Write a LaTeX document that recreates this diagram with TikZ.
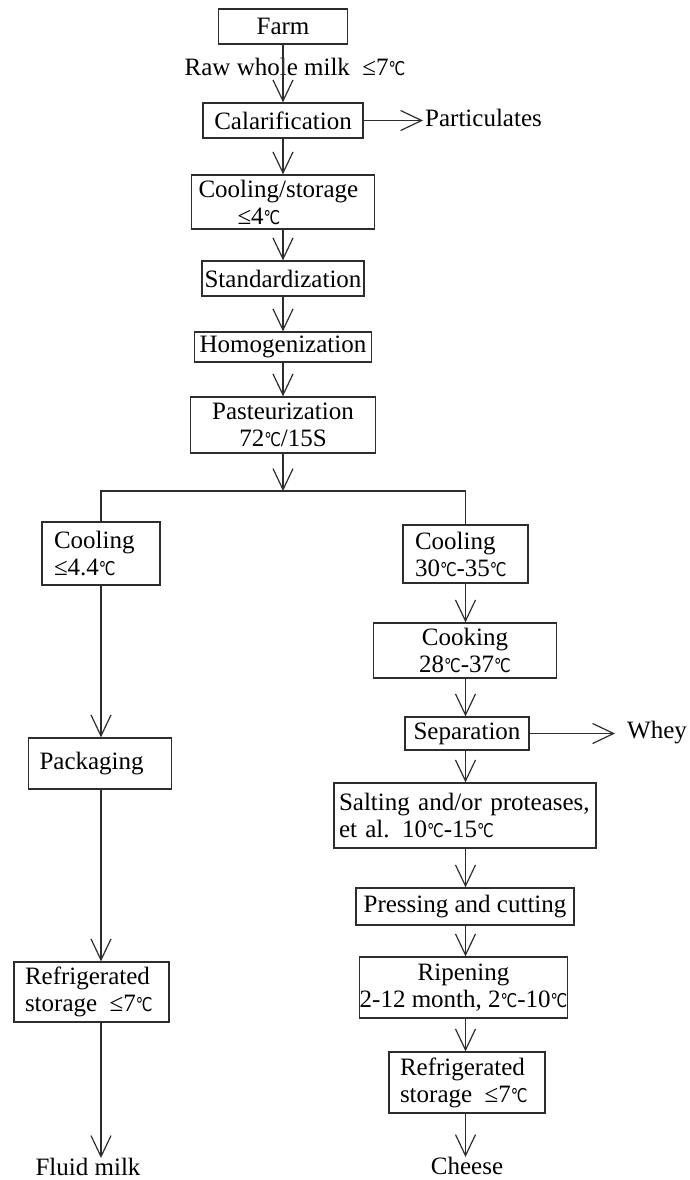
\documentclass[tikz,border=0pt]{standalone}
\usepackage{fontspec}
\usepackage{graphicx}
\setmainfont{Liberation Serif}
\newfontfamily\djs{DejaVu Sans}
\usetikzlibrary{arrows.meta}
\newcommand\degC{{\djs\fontsize{19}{19}\selectfont\scalebox{0.78}[1]{℃}}}
\definecolor{ln}{RGB}{45,45,45}
\tikzset{
  box/.style={draw=ln, line width=1.3pt, inner sep=0pt, align=center,
    font=\fontsize{25}{27}\selectfont},
  lbox/.style={box, align=left},
  txt/.style={inner sep=0pt, font=\fontsize{25}{27}\selectfont},
  arr/.style={draw=ln, line width=1.3pt,
    -{Straight Barb[length=21pt,width=20pt,line width=1.2pt]}},
  ln/.style={draw=ln, line width=1.3pt}
}
\begin{document}
\begin{tikzpicture}[x=1pt,y=-1pt]
\useasboundingbox (0,0) rectangle (689,1180);
% main spine
\node[box, minimum width=129pt, minimum height=35pt] (farm) at (283,26.5) {Farm};
\node[txt] (raw) at (295,67) {Raw whole milk\enspace ≤7\degC};
\node[box, minimum width=160pt, minimum height=35pt] (clar) at (283,120.5) {Calarification};
\node[txt, anchor=west] (part) at (425,118) {Particulates};
\node[lbox, minimum height=54pt, text width=169pt, inner xsep=7pt] (cool1) at (283,202) {Cooling/storage\\\hspace*{39pt}≤4\degC};
\node[box, minimum width=162pt, minimum height=35pt] (std) at (283,278.5) {Standardization};
\node[box, minimum width=177pt, minimum height=30pt] (homo) at (283,347) {Homogenization};
\node[box, minimum width=185pt, minimum height=56pt] (past) at (283,425) {Pasteurization\\72\degC/15S};
\coordinate (br) at (283,491);
% left branch
\node[lbox, minimum height=63pt, text width=94pt, inner xsep=12pt] (lcool) at (101,553.5) {Cooling\\≤4.4\degC};
\node[lbox, minimum height=51pt, text width=121pt, inner xsep=11pt] (pack) at (100,763.5) {Packaging};
\node[lbox, minimum height=60pt, text width=133pt, inner xsep=11pt] (lref) at (91.5,992) {Refrigerated\\storage\enspace ≤7\degC};
\node[txt] (fluid) at (88,1167) {Fluid milk};
% right branch
\node[lbox, minimum height=58pt, text width=101pt, inner xsep=12pt] (rcool) at (465.5,554) {Cooling\\\mbox{30\degC-35\degC}};
\node[box, minimum width=183pt, minimum height=55pt] (cook) at (465,650.5) {Cooking\\28\degC-37\degC};
\node[box, minimum width=124pt, minimum height=33pt] (sep) at (467,733.5) {Separation};
\node[txt, anchor=west] (whey) at (627,733) {Whey};
\node[lbox, minimum height=65pt, text width=252pt, inner xsep=5pt] (salt) at (465,815.5) {Salting and/or proteases,\\et al.\enspace 10\degC-15\degC};
\node[box, minimum width=218pt, minimum height=37pt] (press) at (465,906.5) {Pressing and cutting};
\node[box, minimum width=203pt, minimum height=61pt] (ripe) at (463.5,987.5) {Ripening\\2-12 month, 2\degC-10\degC};
\node[lbox, minimum height=61pt, text width=134pt, inner xsep=11pt] (rref) at (467,1082.5) {Refrigerated\\storage\enspace ≤7\degC};
\node[txt] (cheese) at (467,1166) {Cheese};
% connectors spine
\draw[arr] (farm) -- (clar);
\draw[arr] (clar.east) -- ([xshift=-2pt]clar.east -| part.west);
\draw[arr] (clar) -- (cool1);
\draw[arr] (cool1) -- (std);
\draw[arr] (std) -- (homo);
\draw[arr] (homo) -- (past);
\draw[arr] (past) -- (br);
\draw[ln] (lcool.north) |- (br) -| (rcool.north);
% left
\draw[arr] (lcool) -- (lcool |- pack.north);
\draw[arr] (lcool |- pack.south) -- (lcool |- lref.north);
\draw[arr] (lcool |- lref.south) -- (lcool |- fluid.north);
% right
\draw[arr] (rcool) -- (rcool |- cook.north);
\draw[arr] (rcool |- cook.south) -- (rcool |- sep.north);
\draw[arr] (sep.east) -- ([xshift=-12pt]sep.east -| whey.west);
\draw[arr] (rcool |- sep.south) -- (rcool |- salt.north);
\draw[arr] (rcool |- salt.south) -- (rcool |- press.north);
\draw[arr] (rcool |- press.south) -- (rcool |- ripe.north);
\draw[arr] (rcool |- ripe.south) -- (rcool |- rref.north);
\draw[arr] (rcool |- rref.south) -- (rcool |- cheese.north);
\end{tikzpicture}
\end{document}
